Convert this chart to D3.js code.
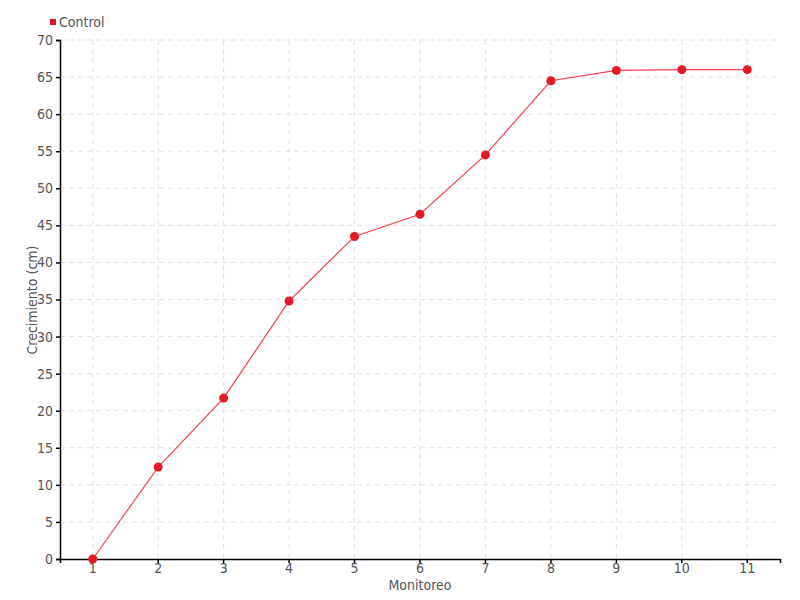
<!DOCTYPE html>
<html>
<head>
<meta charset="utf-8">
<script src="https://cdn.jsdelivr.net/npm/d3@7"></script>
<style>
  body { margin: 0; background: #fff; }
  text { font-family: "DejaVu Sans Condensed", "DejaVu Sans", sans-serif; font-stretch: condensed; fill: #555; }
</style>
</head>
<body>
<script>
// data
const monitoreo = ["1", "2", "3", "4", "5", "6", "7", "8", "9", "10", "11"];
const control = [0, 12.4, 21.7, 34.8, 43.5, 46.5, 54.5, 64.5, 65.9, 66, 66];
const yTicks = [0, 5, 10, 15, 20, 25, 30, 35, 40, 45, 50, 55, 60, 65, 70];

const svg = d3.select("body").append("svg")
    .attr("width", 800)
    .attr("height", 600);

const plotLeft = 60, plotRight = 780, plotTop = 40, plotBottom = 559;

const x = d3.scaleBand().domain(monitoreo).range([plotLeft, plotRight]);
const y = d3.scaleLinear().domain([0, 70]).range([plotBottom, plotTop]);
const cx = d => x(d) + x.bandwidth() / 2;

// grid lines
const grid = svg.append("g");
grid.selectAll("line.h")
    .data(yTicks.filter(d => d > 0))
    .enter().append("line")
    .attr("class", "h")
    .attr("x1", plotLeft).attr("x2", plotRight)
    .attr("y1", d => y(d)).attr("y2", d => y(d))
    .attr("stroke", "#e2e2e2")
    .attr("stroke-dasharray", "5,4");
grid.selectAll("line.v")
    .data(monitoreo)
    .enter().append("line")
    .attr("class", "v")
    .attr("x1", d => cx(d)).attr("x2", d => cx(d))
    .attr("y1", plotTop).attr("y2", plotBottom)
    .attr("stroke", "#e2e2e2")
    .attr("stroke-dasharray", "5,4");

// axes
const yAxis = svg.append("g")
    .attr("transform", "translate(" + plotLeft + ",0)")
    .call(d3.axisLeft(y).tickValues(yTicks).tickSize(4).tickPadding(3));
const xAxis = svg.append("g")
    .attr("transform", "translate(0," + plotBottom + ")")
    .call(d3.axisBottom(x).tickSize(4).tickPadding(0));

[xAxis, yAxis].forEach(a => {
  a.attr("font-family", null).attr("font-size", 14);
  a.select(".domain").attr("stroke", "#000").attr("stroke-width", 1.5);
  a.selectAll(".tick line").attr("stroke", "#000").attr("stroke-width", 1.5);
  a.selectAll(".tick text").attr("fill", null);
});

// axis titles
svg.append("text")
    .attr("x", 420).attr("y", 590)
    .attr("text-anchor", "middle")
    .attr("font-size", 14)
    .text("Monitoreo");
svg.append("text")
    .attr("transform", "translate(37,300) rotate(-90)")
    .attr("text-anchor", "middle")
    .attr("font-size", 14)
    .text("Crecimiento (cm)");

// line
const line = d3.line()
    .x((d, i) => cx(monitoreo[i]))
    .y(d => y(d));
svg.append("path")
    .datum(control)
    .attr("d", line)
    .attr("fill", "none")
    .attr("stroke", "#f7404f")
    .attr("stroke-width", 1.2);

svg.selectAll("circle")
    .data(control)
    .enter().append("circle")
    .attr("cx", (d, i) => cx(monitoreo[i]))
    .attr("cy", d => y(d))
    .attr("r", 4.5)
    .attr("fill", "#e31a24");

// legend
svg.append("rect")
    .attr("x", 50).attr("y", 19)
    .attr("width", 6).attr("height", 6)
    .attr("fill", "#e8101e");
svg.append("text")
    .attr("x", 59).attr("y", 27)
    .attr("font-size", 14)
    .text("Control");
</script>
</body>
</html>
